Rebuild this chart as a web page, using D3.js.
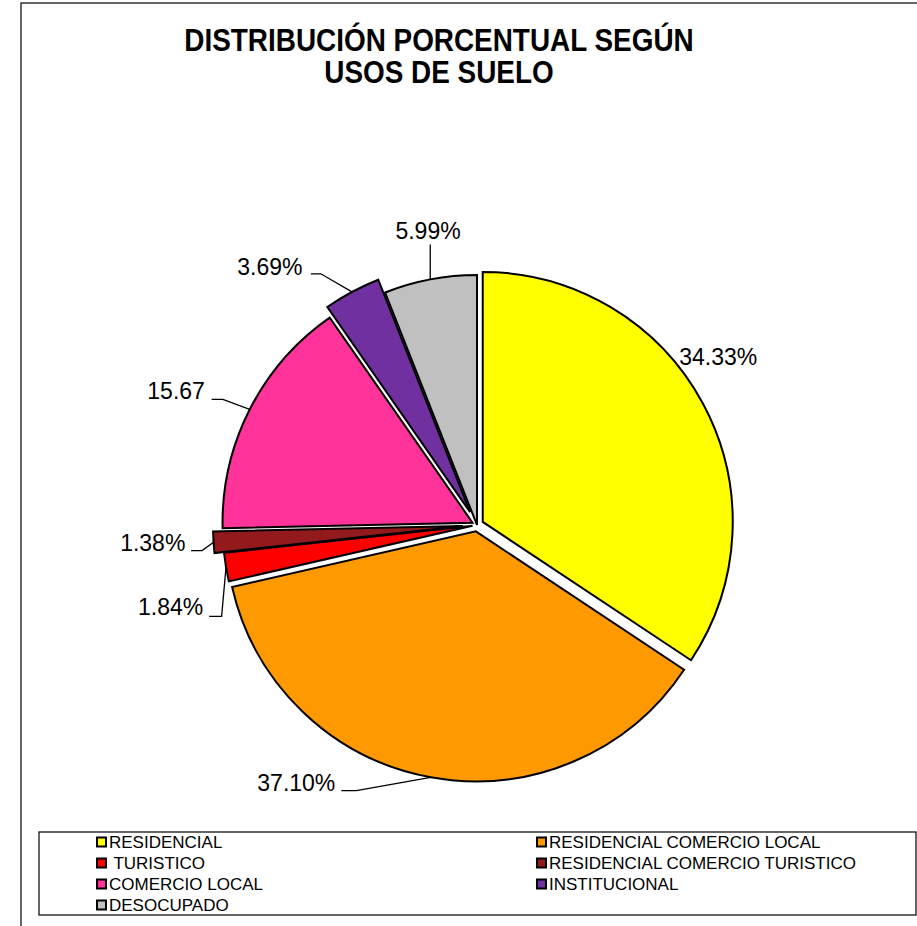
<!DOCTYPE html>
<html><head><meta charset="utf-8">
<script src="https://cdn.jsdelivr.net/npm/d3@7"></script>
<style>body{margin:0;background:#fff} svg{display:block}</style>
</head><body><svg id="c" width="917" height="926"></svg>
<script>
// ---- data ----
const categories = ["RESIDENCIAL","RESIDENCIAL COMERCIO LOCAL"," TURISTICO","RESIDENCIAL COMERCIO TURISTICO","COMERCIO LOCAL","INSTITUCIONAL","DESOCUPADO"];
const values = [34.33, 37.10, 1.84, 1.38, 15.67, 3.69, 5.99];
const valueLabels = ["34.33%","37.10%","1.84%","1.38%","15.67","3.69%","5.99%"];
const titleLines = ["DISTRIBUCIÓN PORCENTUAL SEGÚN","USOS DE SUELO"];

// ---- styling / layout ----
const colors = ["#FFFF00","#FF9900","#FF0000","#921A1D","#FF3399","#7030A0","#C0C0C0"];
const explode = [6.5, 6.5, 4.5, 14, 5, 14.5, 0];
const labelLayout = [
  {dx:-23.8, dy:-38.9, anchor:"start",  leader:null},
  {dx:-95.5, dy:13.3,  anchor:"end",    leader:[[-74.5,13.3],[-89.5,13.3]]},
  {dx:-22.8, dy:48.1,  anchor:"end",    leader:[[-4.4,49.1],[-16.8,49.1]]},
  {dx:-28.2, dy:8.4,   anchor:"end",    leader:[[-11.5,8.4],[-22.5,8.4]]},
  {dx:-44.8, dy:-10.8, anchor:"end",    leader:[[-26.8,-10.1],[-38.1,-10.1]]},
  {dx:-49.5, dy:-17.4, anchor:"end",    leader:[[-31.2,-18.1],[-41.2,-18.1]]},
  {dx:-2.2,  dy:-40.5, anchor:"middle", leader:[[0,-35]]}
];
const W = 917, H = 926;
const cx = 477, cy = 525, R = 250;
const font = "'Liberation Sans', Arial, sans-serif";

const svg = d3.select("#c");

// outer frame
svg.append("rect").attr("x",21).attr("y",3).attr("width",W+10).attr("height",H+10)
  .attr("fill","none").attr("stroke","#000").attr("stroke-width",1.2);

// title (slightly condensed, as in the reference)
const tg = svg.append("g").attr("font-family",font).attr("font-weight","bold").attr("font-size",31)
  .attr("text-anchor","middle").attr("fill","#000");
tg.selectAll("text").data(titleLines).join("text")
  .attr("transform",(d,i)=>`translate(439,${51+i*31.5}) scale(0.9,1)`)
  .text(d=>d);

// pie
const pie = d3.pie().sort(null).value(d=>d);
const arcs = pie(values);
const arc = d3.arc().innerRadius(0).outerRadius(R);
const g = svg.append("g");
arcs.forEach((a,i)=>{
  const mid = (a.startAngle + a.endAngle)/2;
  a.ox = cx + Math.sin(mid)*explode[i];
  a.oy = cy - Math.cos(mid)*explode[i];
  a.ax = a.ox + Math.sin(mid)*R;
  a.ay = a.oy - Math.cos(mid)*R;
});
g.selectAll("path").data(arcs).join("path")
  .attr("transform",d=>`translate(${d.ox},${d.oy})`)
  .attr("d",arc)
  .attr("fill",(d,i)=>colors[i])
  .attr("stroke","#000").attr("stroke-width",2).attr("stroke-linejoin","miter");

// leader lines
const line = d3.line();
g.selectAll("path.leader").data(arcs.filter((d,i)=>labelLayout[i].leader)).join("path")
  .attr("class","leader")
  .attr("d",d=>{
    const L = labelLayout[d.index];
    const pts = [[d.ax,d.ay]].concat(L.leader.map(p=>[d.ax+p[0], d.ay+p[1]]));
    return line(pts);
  })
  .attr("fill","none").attr("stroke","#000").attr("stroke-width",1.3);

// labels
g.selectAll("text").data(arcs).join("text")
  .attr("x",d=>d.ax+labelLayout[d.index].dx)
  .attr("y",d=>d.ay+labelLayout[d.index].dy)
  .attr("text-anchor",d=>labelLayout[d.index].anchor)
  .attr("font-family",font).attr("font-size",23).attr("fill","#000")
  .text(d=>valueLabels[d.index]);

// legend
const lg = svg.append("g");
lg.append("rect").attr("x",39).attr("y",832).attr("width",877).attr("height",83)
  .attr("fill","#fff").attr("stroke","#000").attr("stroke-width",1.2);
const colX = [97, 537], rowY0 = 842, rowH = 21;
const items = lg.selectAll("g.item").data(categories).join("g").attr("class","item")
  .attr("transform",(d,i)=>`translate(${colX[i%2]},${rowY0 + Math.floor(i/2)*rowH})`);
items.append("rect").attr("x",0).attr("y",-4.5).attr("width",9).attr("height",9)
  .attr("fill",(d,i)=>colors[i]).attr("stroke","#000").attr("stroke-width",2);
items.append("text").attr("x",12).attr("y",6).attr("font-family",font).attr("font-size",17)
  .attr("fill","#000").attr("xml:space","preserve").style("white-space","pre").text(d=>d);
</script></body></html>
